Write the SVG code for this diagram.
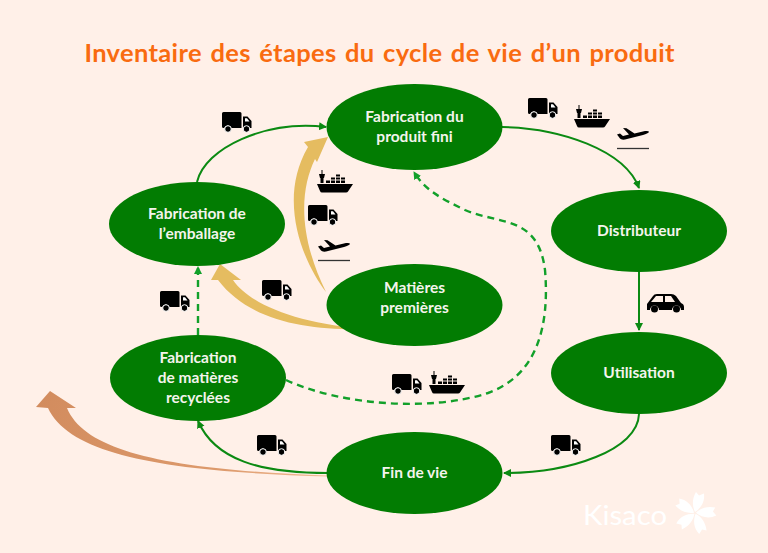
<svg xmlns="http://www.w3.org/2000/svg" width="768" height="553" viewBox="0 0 768 553">
<style>
.n{fill:#027C02}
.t{font-family:Lato,"Liberation Sans",sans-serif;font-weight:700;font-size:15.500px;fill:#F4F4EC;text-anchor:middle}
.c{fill:none;stroke:#0B8A12;stroke-width:2}
.d{stroke-dasharray:7 5;stroke-width:2.400;stroke:#12A02A}
</style>
<defs>
<marker id="a" markerWidth="10" markerHeight="10" refX="7" refY="4" orient="auto" markerUnits="userSpaceOnUse"><path d="M0 0L8 4L0 8Z" fill="#0B8A12"/></marker>
<marker id="b" markerWidth="10" markerHeight="10" refX="7" refY="4" orient="auto" markerUnits="userSpaceOnUse"><path d="M0 0L8 4L0 8Z" fill="#12A02A"/></marker>
<linearGradient id="o" gradientUnits="userSpaceOnUse" x1="330" y1="474" x2="40" y2="395"><stop offset="0" stop-color="#F2BE98"/><stop offset=".35" stop-color="#DD9A6C"/><stop offset="1" stop-color="#D28C5E"/></linearGradient>
<g id="truck"><path d="M0 1.500Q0 0 1.500 0H18Q19.500 0 19.500 1.500V16H9.500A4 4 0 0 0 2 16H1.500Q0 16 0 14.500Z" fill="#000"/><path d="M21 4.500H25.500L29.500 9V16H28A4.500 4.500 0 0 0 21 16Z" fill="#000"/><path d="M23 6.300H25L27.500 9.600H23Z" fill="#fff"/><circle cx="6" cy="17" r="3.300" fill="#000" stroke="#fff" stroke-width="1"/><circle cx="24.500" cy="17" r="3.300" fill="#000" stroke="#fff" stroke-width="1"/></g>
<g id="ship"><path d="M0 14H36L31 21.500Q30.500 22.500 29 22.500H5Q3.500 22.500 3 21Z" fill="#000"/><path d="M2 4H4.500V0H5.500V4H8L7 8H6.500V13H3.500V8H3Z" fill="#000"/><path d="M9 10.500H13V13H9ZM14 10.500H18V13H14ZM19 10.500H23V13H19ZM24 10.500H28V13H24ZM14 7.500H18V9.500H14ZM19 7.500H23V9.500H19ZM24 7.500H28V9.500H24ZM19 4.500H23V6.500H19Z" fill="#000"/></g>
<g id="plane"><path d="M0 6.500L3 5.500L6 8L12 6.500L6 0L9.500 0.300L17.500 5.500L28 3Q32 2.500 32 4Q31 5.500 26 7L8 11.500Q4 12 3 10.500Z" fill="#000"/><path d="M0 20.500H32" stroke="#333" stroke-width="1.300"/></g>
<path id="blade" d="M0 -1C-3 -7 -3 -14 1 -21L4 -17.500L9 -19.500C10 -11 6 -5 0 -1Z" fill="#fff"/>
</defs>
<rect width="768" height="553" fill="#FFF0E8"/>
<text x="379.500" y="62" text-anchor="middle" font-family="Lato,'Liberation Sans',sans-serif" font-weight="700" font-size="25.500" word-spacing="2" fill="#F96B10" textLength="590">Inventaire des étapes du cycle de vie d’un produit</text>
<g id="arrows">
<path d="M326 292C303 262 277 200 308 147L304 142L328 137L317 162L315 159C300 190 298 235 326 292Z" fill="#E5BC60"/>
<path d="M370 329C300 325 250 305 233 280L241 280L220 264L211 280L218 280C250 322 310 331 370 329Z" fill="#E5BC60"/>
<path d="M328 475.500C170 470 85 452 67 408L76 408L50 391L36 407L48 408C70 456 170 472 328 476.500Z" fill="url(#o)"/>
</g>
<g id="connectors">
<path class="c" d="M197 182C205 148 265 120 326 127" marker-end="url(#a)"/>
<path class="c" d="M502 127C560 128 625 150 639 188" marker-end="url(#a)"/>
<path class="c" d="M639 272V330" marker-end="url(#a)"/>
<path class="c" d="M639 414C638 450 570 473 504 473" marker-end="url(#a)"/>
<path class="c" d="M328 473C260 473 215 460 198 421" marker-end="url(#a)"/>
<path class="c d" d="M198 335V267" marker-end="url(#b)"/>
<path class="c d" d="M286 380C340 405 430 412 488 393C535 376 550 330 545 270C538 215 500 225 465 210C440 198 425 190 414 172" marker-end="url(#b)"/>
</g>
<g id="icons">
<use href="#truck" x="222" y="112"/>
<use href="#truck" x="528" y="98"/>
<use href="#ship" x="574" y="105"/>
<use href="#plane" x="617" y="128"/>
<use href="#ship" x="317" y="170"/>
<use href="#truck" x="308" y="205"/>
<use href="#plane" x="318" y="240"/>
<use href="#truck" x="262" y="280"/>
<use href="#truck" x="160" y="291"/>
<use href="#truck" x="392" y="374"/>
<use href="#ship" x="429" y="371"/>
<use href="#truck" x="257" y="435"/>
<use href="#truck" x="551" y="435"/>
<path d="M647 304L653 296Q654 294 657 294H671Q674 294 676 296L681 303Q684 304 684 307V310H681A4.500 4.500 0 0 0 672 310H659A4.500 4.500 0 0 0 650 310H647Z" fill="#000"/>
<path d="M656 296H663V302H651ZM665 296H671L675 302H665Z" fill="#FFF0E8"/>
<circle cx="654.500" cy="309" r="3.500"/><circle cx="676.500" cy="309" r="3.500"/>
</g>
<g id="n1"><ellipse class="n" cx="414.500" cy="127" rx="88" ry="43"/><text class="t" x="414.500" y="122">Fabrication du</text><text class="t" x="414.500" y="142">produit fini</text></g>
<g id="n2"><ellipse class="n" cx="639" cy="231" rx="88" ry="41"/><text class="t" x="639" y="236">Distributeur</text></g>
<g id="n3"><ellipse class="n" cx="639" cy="373" rx="88" ry="41"/><text class="t" x="639" y="378">Utilisation</text></g>
<g id="n4"><ellipse class="n" cx="414.500" cy="473" rx="88" ry="41"/><text class="t" x="414.500" y="478">Fin de vie</text></g>
<g id="n5"><ellipse class="n" cx="198" cy="378" rx="88" ry="43"/><text class="t" x="198" y="363">Fabrication</text><text class="t" x="198" y="383">de matières</text><text class="t" x="198" y="403">recyclées</text></g>
<g id="n6"><ellipse class="n" cx="197" cy="224" rx="88" ry="42"/><text class="t" x="197" y="219">Fabrication de</text><text class="t" x="197" y="239">l’emballage</text></g>
<g id="n7"><ellipse class="n" cx="414.500" cy="305" rx="88" ry="41"/><text class="t" x="414.500" y="293">Matières</text><text class="t" x="414.500" y="313">premières</text></g>
<g id="logo">
<text x="583" y="525" font-family="Lato,'Liberation Sans',sans-serif" font-weight="400" font-size="27" fill="#fff" textLength="84" lengthAdjust="spacingAndGlyphs">Kisaco</text>
<g transform="translate(695 513)">
<use href="#blade"/>
<use href="#blade" transform="rotate(72)"/>
<use href="#blade" transform="rotate(144)"/>
<use href="#blade" transform="rotate(216)"/>
<use href="#blade" transform="rotate(288)"/>
</g>
</g>
</svg>
